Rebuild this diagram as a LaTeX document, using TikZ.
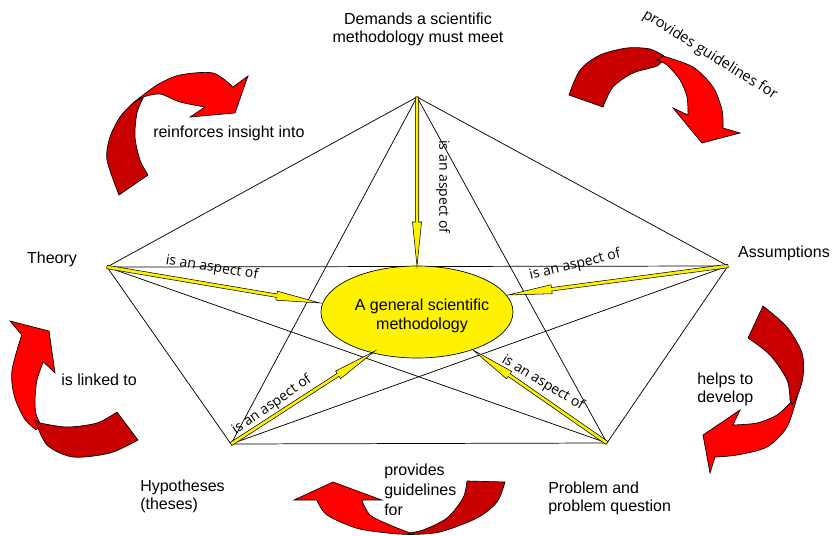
\documentclass[tikz,border=0pt]{standalone}
\usepackage{fontspec}
\setmainfont{Liberation Sans}
\newfontfamily\aspfont{Open Sans}
\usetikzlibrary{shapes.geometric,calc}
\definecolor{darkred}{RGB}{200,0,0}
\tikzset{
  edge/.style={draw=black, line width=0.55pt},
  lbl/.style={font=\fontsize{12}{13.5}\selectfont, inner sep=0pt, align=left},
  asp/.style={font=\aspfont\fontsize{10.5}{12}\selectfont, inner sep=0pt},
  yarrow/.style={draw=black, fill=yellow, line width=0.4pt, line join=miter},
  rbright/.style={draw=black, fill=red, line width=0.5pt},
  rdark/.style={draw=black, fill=darkred, line width=0.5pt},
  methnode/.style={ellipse, draw=black, line width=0.5pt, fill=yellow, minimum width=144pt, minimum height=69pt, inner sep=0pt},
  methtext/.style={align=center, inner sep=0pt, font=\fontsize{12}{14}\selectfont},
}
% yellow arrow from #1 to #2
\newcommand\yarr[2]{%
  \path[yarrow]
    ($(#1)!1.3pt!90:(#2)$) -- ($($(#2)!33pt!(#1)$)!1.3pt!90:(#2)$)
    -- ($($(#2)!33pt!(#1)$)!3.4pt!90:(#2)$) -- (#2)
    -- ($($(#2)!33pt!(#1)$)!3.4pt!-90:(#2)$)
    -- ($($(#2)!33pt!(#1)$)!1.3pt!-90:(#2)$)
    -- ($(#1)!1.3pt!-90:(#2)$) -- cycle;}
\begin{document}
\begin{tikzpicture}[x=0.75pt,y=-0.75pt]
\useasboundingbox (0,0) rectangle (833,536);
% pentagon vertices
\coordinate (T) at (417,97);
\coordinate (L) at (107,267);
\coordinate (R) at (728,266);
\coordinate (BL) at (231,444);
\coordinate (BR) at (607,443);
% complete graph
\draw[edge] (T) -- (L);
\draw[edge] (T) -- (R);
\draw[edge] (L) -- (R);
\draw[edge] (L) -- (BL);
\draw[edge] (R) -- (BR);
\draw[edge] (BL) -- (BR);
\draw[edge] (T) -- (BL);
\draw[edge] (T) -- (BR);
\draw[edge] (L) -- (BR);
\draw[edge] (R) -- (BL);
% central ellipse
\node[methnode] (M) at (417,312) {};
\node[methtext] (Mt) at (422,316) {A general scientific\\methodology};
% arrow tips on the ellipse
\coordinate (tT) at (417,266);
\coordinate (tL) at (320,303);
\coordinate (tR) at (508,295);
\coordinate (tBL) at (375,351);
\coordinate (tBR) at (473,350);
\yarr{T}{tT}
\yarr{L}{tL}
\yarr{R}{tR}
\yarr{BL}{tBL}
\yarr{BR}{tBR}
% "is an aspect of" labels
\node[asp, rotate=-90] (a1) at (443,187) {is an aspect of};
\node[asp, rotate=-9] (a2) at (212,268) {is an aspect of};
\node[asp, rotate=14] (a3) at (575,265) {is an aspect of};
\node[asp, rotate=35] (a4) at (272,405) {is an aspect of};
\node[asp, rotate=-31] (a5) at (543,383) {is an aspect of};
% corner labels
\node[lbl, align=center] (dem) at (418,29) {Demands a scientific\\methodology must meet};
\node[lbl] (theo) at (52,259) {Theory};
\node[lbl] (ass) at (784,253) {Assumptions};
\node[lbl, anchor=west] (hyp) at (140,496) {Hypotheses\\(theses)};
\node[lbl, anchor=west] (prob) at (548,498) {Problem and\\problem question};
% red arrow labels
\node[lbl, anchor=west] (rein) at (153,133) {reinforces insight into};
\node[lbl, anchor=west] (link) at (61,380) {is linked to};
\node[lbl, anchor=west] (help) at (697,389) {helps to\\develop};
\node[lbl, anchor=west, font=\fontsize{12}{15}\selectfont] (prov) at (384,490) {provides\\guidelines\\for};
\node[asp, font=\aspfont\fontsize{11}{13}\selectfont, rotate=-32] (prov2) at (710,55) {provides guidelines for};
% --- red arrow top-left
\path[rdark] (119,195) -- plot[smooth] coordinates {(119,195) (107,160) (110,137) (120,117) (133,103) (144,96)}
  -- plot[smooth] coordinates {(144,96) (137,113) (135,137) (140,160) (148,175)} -- cycle;
\path[rbright] (133,103) -- plot[smooth] coordinates {(133,103) (157,85) (180,75) (213,73) (233,87)}
  -- (248,76) -- (235,113) -- (190,117) -- (205,107)
  -- plot[smooth] coordinates {(205,107) (180,102) (160,94) (143,97)} -- cycle;
% --- red arrow top-right
\path[rdark] (569,95) -- plot[smooth] coordinates {(569,95) (580,70) (600,55) (627,48) (650,49) (664,56)}
  -- plot[smooth] coordinates {(664,58) (657,66) (633,73) (613,87) (603,107)} -- cycle;
\path[rbright] (663,56) -- plot[smooth] coordinates {(663,56) (693,67) (713,87) (722,110) (723,128)}
  -- (740,133) -- (702,143) -- (673,108) -- (688,115)
  -- plot[smooth] coordinates {(688,115) (687,97) (680,80) (667,65) (657,60)} -- cycle;
% --- red arrow left
\path[rbright] (21.7,335) -- (10,321) -- (49,331) -- (55,373) -- (43.3,361.7)
  -- plot[smooth] coordinates {(43.3,361.7) (37,380) (35,400) (36,414) (41,425)}
  -- plot[smooth] coordinates {(36,430) (24,418) (14,395) (12,370) (21.7,335)} -- cycle;
\path[rdark] (35,420) -- plot[smooth] coordinates {(35,420) (47,445) (73,457) (110,453) (138,440)}
  -- (117,412) -- plot[smooth] coordinates {(117,412) (97,423) (67,427) (40,423)} -- cycle;
% --- red arrow right
\path[rbright] (733,425) -- (740,410) -- (703,435) -- (710,473) -- (715,457)
  -- plot[smooth] coordinates {(715,457) (737,455) (767,447) (787,427) (797,397)}
  -- plot[smooth] coordinates {(790,403) (777,415) (757,423) (733,425)} -- cycle;
\path[rdark] (763,306) -- plot[smooth] coordinates {(763,306) (787,327) (802,353) (803,377) (797,397) (792,405)}
  -- plot[smooth] coordinates {(790,400) (787,380) (770,355) (748,338)} -- cycle;
% --- red arrow bottom
\path[rbright] (316.7,500) -- (294,500) -- (333,482) -- (381.7,500) -- (361.7,500)
  -- plot[smooth] coordinates {(361.7,500) (370,515) (390,525) (410,533)}
  -- plot[smooth] coordinates {(410,534.5) (390,533.3) (357,528.3) (327,515) (316.7,500)} -- cycle;
\path[rdark] (410,534) -- plot[smooth] coordinates {(410,534.5) (440,532) (477,518) (497,502) (505,482)}
  -- (467,481) -- plot[smooth] coordinates {(467,481) (463,498) (447,518) (423,530) (408,533)} -- cycle;
\end{tikzpicture}
\end{document}
